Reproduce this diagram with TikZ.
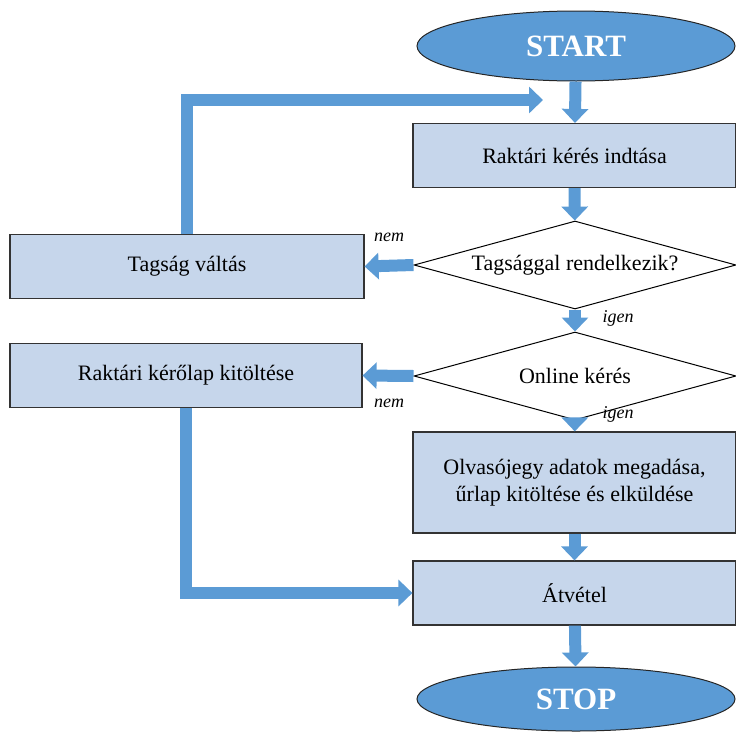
\documentclass[tikz,border=0pt]{standalone}
\usepackage{fontspec}
\setmainfont{Liberation Serif}
\usetikzlibrary{shapes.geometric,arrows.meta}

\definecolor{flowblue}{HTML}{5B9BD5}
\definecolor{boxblue}{HTML}{C6D6EB}

\tikzset{
    terminal/.style={ellipse, draw=black!85, line width=1pt, fill=flowblue, text=white,
        font=\fontsize{31}{33}\selectfont\bfseries, minimum width=318pt, minimum height=70pt, inner sep=0pt},
    process/.style={rectangle, draw=black!80, line width=1.2pt, fill=boxblue,
        font=\fontsize{22}{27}\selectfont, minimum width=323pt, minimum height=64pt, inner sep=0pt, align=center},
    decision/.style={diamond, draw=black, line width=1pt, fill=white,
        font=\fontsize{22}{26}\selectfont, minimum width=322pt, minimum height=88pt, inner sep=0pt, shape aspect=3.6},
    flow/.style={flowblue, line width=12pt, -{Triangle[width=26pt,length=14pt]}},
    answer/.style={font=\fontsize{18}{20}\selectfont\itshape}
}

\begin{document}
\begin{tikzpicture}[x=1pt, y=-1pt]
    \useasboundingbox (0,0) rectangle (736,731);

    % right column
    \node[terminal] (start) at (576,46) {START};
    \node[process] (request) at (574.5,155.5) {Raktári kérés indtása};
    \node[decision] (member) at (575,265) {Tagsággal rendelkezik?};
    \node[decision] (online) at (575,376) {Online kérés};
    \node[process, minimum height=101pt] (data) at (574.5,482.5) {Olvasójegy adatok megadása,\\űrlap kitöltése és elküldése};
    \node[process] (take) at (574.5,593) {Átvétel};
    \node[terminal, minimum height=64pt] (stop) at (576,699) {STOP};

    % left column
    \node[process, minimum width=354pt] (change) at (187,266.5) {Tagság váltás};
    \node[process, minimum width=352pt] (form) at (186,375.5) {Raktári kérőlap kitöltése};
    \coordinate (loopend) at (543,100);

    \draw[flow] (start) -- (request);
    \draw[flow] (request) -- (member);
    \draw[flow] (member) -- (online);
    \draw[flow] (online) -- (data);
    \draw[flow] (data) -- (take);
    \draw[flow] (take) -- (stop);
    \draw[flow] (member.west) -- (change.east);
    \draw[flow] (online.west) -- (form.east);
    \draw[flow] (change.north) |- (loopend);
    \draw[flow] (form.south) |- (take.west);

    \node[answer] at (389,237) {nem};
    \node[answer] at (618,318) {igen};
    \node[answer] at (389,403) {nem};
    \node[answer] at (618,414) {igen};
\end{tikzpicture}
\end{document}
